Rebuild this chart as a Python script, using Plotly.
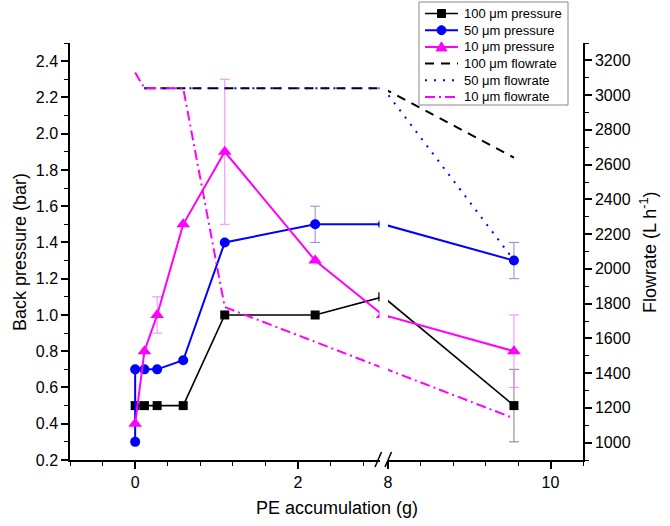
import plotly.graph_objects as go

# ── data ──────────────────────────────────────────────────
# x = PE accumulation (g); None = point that sits inside the axis break
P100_X = [0, 0.114, 0.27, 0.59, 1.1, 2.21, None, 9.55]
P100_Y = [0.5, 0.5, 0.5, 0.5, 1.0, 1.0, 1.1, 0.5]
P100_ERR = [None, None, None, None, None, None, None, 0.2]

P50_X = [0, 0, 0.114, 0.27, 0.59, 1.1, 2.21, None, 9.55]
P50_Y = [0.3, 0.7, 0.7, 0.7, 0.75, 1.4, 1.5, 1.5, 1.3]
P50_ERR = [None, None, None, None, None, None, 0.1, None, 0.1]

P10_X = [0, 0.114, 0.27, 0.59, 1.1, 2.21, None, 9.55]
P10_Y = [0.4, 0.8, 1.0, 1.5, 1.9, 1.3, 1.0, 0.8]
P10_ERR = [None, None, 0.1, None, 0.4, None, None, 0.2]

F100_X = [0.114, 0.27, 0.59, 1.1, 2.21, None, 9.55]
F100_Y = [3040, 3040, 3040, 3040, 3040, 3040, 2640]

F50_X = [0.114, 0.27, 0.59, 1.1, 2.21, None, 9.55]
F50_Y = [3040, 3040, 3040, 3040, 3040, 3040, 2050]

F10_X = [0, 0.114, 0.27, 0.59, 1.1, 2.21, None, 9.55]
F10_Y = [3130, 3040, 3040, 3040, 1780, 1580, 1430, 1140]

LEFT_RANGE = [-0.8, 3.0]
RIGHT_RANGE = [8.0, 10.4]
BREAK_L, BREAK_R = 3.04, 7.94   # where the in-break point is drawn for each half

FONT = "Arial, Liberation Sans, sans-serif"
BLACK, BLUE, MAGENTA = "#000000", "#0000ff", "#ff00ff"

W, H = 670, 526
ML, MR, MT, MB = 70, 87, 43, 66
PW, PH = W - ML - MR, H - MT - MB


def px(xw):
    """pixel x -> paper x"""
    return (xw - ML) / PW


def py(yw):
    """pixel y -> paper y"""
    return (H - MB - yw) / PH


def split(xs, ys, errs=None, side="left"):
    """points belonging to one half of the broken x axis"""
    out_x, out_y, out_e = [], [], []
    for i, (x, y) in enumerate(zip(xs, ys)):
        e = errs[i] if errs else None
        if x is None:
            out_x.append(BREAK_L if side == "left" else BREAK_R)
        elif (side == "left" and x <= LEFT_RANGE[1]) or (side == "right" and x >= RIGHT_RANGE[0]):
            out_x.append(x)
        else:
            continue
        out_y.append(y)
        out_e.append(e)
    return out_x, out_y, out_e


pressure = [
    ("100 μm pressure", P100_X, P100_Y, P100_ERR, BLACK, "square", 9, 1.6, "#808080"),
    ("50 μm pressure", P50_X, P50_Y, P50_ERR, BLUE, "circle", 10, 2, "#8c8cd8"),
    ("10 μm pressure", P10_X, P10_Y, P10_ERR, MAGENTA, "triangle-up", 12, 2, "#f28cf2"),
]
flowrate = [
    ("100 μm flowrate", F100_X, F100_Y, BLACK, "9px,7px"),
    ("50 μm flowrate", F50_X, F50_Y, BLUE, "2px,7px"),
    ("10 μm flowrate", F10_X, F10_Y, MAGENTA, "10px,4px,2px,4px"),
]

fig = go.Figure()

# error bars first so they sit under the markers
for side, xa in (("left", "x"), ("right", "x2")):
    for name, xs, ys, errs, color, sym, size, lw, ecol in pressure:
        sx, sy, se = split(xs, ys, errs, side)
        ex = [x for x, e in zip(sx, se) if e]
        ey = [y for y, e in zip(sy, se) if e]
        ee = [e for e in se if e]
        if ex:
            fig.add_trace(go.Scatter(
                x=ex, y=ey, xaxis=xa, yaxis="y", mode="markers",
                marker=dict(size=1, opacity=0), showlegend=False, hoverinfo="skip",
                error_y=dict(type="data", array=ee, color=ecol, thickness=1, width=5),
            ))

for side, xa in (("left", "x"), ("right", "x2")):
    for name, xs, ys, errs, color, sym, size, lw, ecol in pressure:
        sx, sy, _ = split(xs, ys, errs, side)
        fig.add_trace(go.Scatter(
            x=sx, y=sy, xaxis=xa, yaxis="y", mode="lines+markers", name=name,
            line=dict(color=color, width=lw),
            marker=dict(symbol=sym, size=size, color=color),
            showlegend=False,
        ))
    for name, xs, ys, color, dash in flowrate:
        sx, sy, _ = split(xs, ys, None, side)
        fig.add_trace(go.Scatter(
            x=sx, y=sy, xaxis=xa, yaxis="y2", mode="lines", name=name,
            line=dict(color=color, width=2, dash=dash),
            showlegend=False,
        ))

# ── axes ──────────────────────────────────────────────────
axis_common = dict(
    showline=True, linecolor="black", linewidth=1.5, ticks="outside",
    tickcolor="black", tickwidth=1.5, showgrid=False, zeroline=False, automargin=False,
    tickfont=dict(family=FONT, size=16, color="black"),
)
minor_common = dict(ticklen=4, ticks="outside", tickcolor="black", tickwidth=1.2)

fig.update_layout(
    xaxis=dict(
        domain=[0, px(379.5)], range=LEFT_RANGE, anchor="y", tickmode="linear", tick0=0, dtick=2,
        ticklen=7, minor=dict(tick0=0, dtick=0.4, **minor_common), **axis_common,
    ),
    xaxis2=dict(
        domain=[px(388), 1], range=RIGHT_RANGE, anchor="y", tickmode="linear", tick0=8, dtick=2,
        ticklen=7, minor=dict(tick0=8, dtick=0.4, **minor_common), **axis_common,
    ),
    yaxis=dict(
        range=[0.2, 2.5], anchor="x", side="left", tickmode="linear", tick0=0.2, dtick=0.2,
        tickformat=".1f", ticklen=7, minor=dict(dtick=0.1, **minor_common), **axis_common,
    ),
    yaxis2=dict(
        range=[900, 3300], overlaying="y", anchor="x2", side="right", tickmode="linear",
        tick0=1000, dtick=200, ticklen=7, minor=dict(dtick=100, **minor_common), **axis_common,
    ),
    showlegend=False,
    width=W, height=H,
    margin=dict(l=ML, r=MR, t=MT, b=MB, autoexpand=False),
    paper_bgcolor="white", plot_bgcolor="white",
    font=dict(family=FONT),
)

title_font = dict(family=FONT, size=18, color="black")
fig.add_annotation(text="PE accumulation (g)", xref="paper", yref="paper",
                   x=px(337), y=py(508), xanchor="center", yanchor="middle",
                   showarrow=False, font=title_font)
fig.add_annotation(text="Back pressure (bar)", xref="paper", yref="paper",
                   x=px(20), y=py(252), xanchor="center", yanchor="middle",
                   textangle=-90, showarrow=False, font=title_font)
fig.add_annotation(text="Flowrate (L h<sup>-1</sup>)", xref="paper", yref="paper",
                   x=px(648), y=py(252), xanchor="center", yanchor="middle",
                   textangle=-90, showarrow=False, font=title_font)

# axis-break marks "//"
for x0 in (375, 385):
    fig.add_shape(type="line", xref="paper", yref="paper",
                  x0=px(x0), y0=py(467), x1=px(x0 + 6.5), y1=py(452),
                  line=dict(color="black", width=1.5))

# ── legend box (drawn by hand to get the compact row spacing) ──
LEG_L, LEG_R, LEG_T, LEG_B = 419, 568, 2, 105
ROW0, ROW_STEP = 13.5, 16.7
fig.add_shape(type="rect", xref="paper", yref="paper", layer="above",
              x0=px(LEG_L), x1=px(LEG_R), y0=py(LEG_B), y1=py(LEG_T),
              line=dict(color="#888888", width=1), fillcolor="white")

leg_rows = [(n, c, "solid", lw, sym) for n, _, _, _, c, sym, _, lw, _ in pressure] + \
           [(n, c, d, 2, None) for n, _, _, c, d in flowrate]
for i, (name, color, dash, lw, sym) in enumerate(leg_rows):
    yc = ROW0 + i * ROW_STEP
    fig.add_shape(type="line", xref="paper", yref="paper", layer="above",
                  x0=px(425), x1=px(458), y0=py(yc), y1=py(yc),
                  line=dict(color=color, width=lw, dash=dash))
    mk = dict(xref="paper", yref="paper", layer="above", fillcolor=color, line=dict(color=color, width=1))
    if sym == "square":
        fig.add_shape(type="rect", x0=px(437.5), x1=px(445.5), y0=py(yc + 4), y1=py(yc - 4), **mk)
    elif sym == "circle":
        fig.add_shape(type="circle", x0=px(437), x1=px(446), y0=py(yc + 4.5), y1=py(yc - 4.5), **mk)
    elif sym == "triangle-up":
        path = "M {},{} L {},{} L {},{} Z".format(px(436), py(yc + 4), px(447), py(yc + 4), px(441.5), py(yc - 5))
        fig.add_shape(type="path", path=path, **mk)
    fig.add_annotation(text=name, xref="paper", yref="paper", x=px(462), y=py(yc),
                       xanchor="left", yanchor="middle", showarrow=False,
                       font=dict(family=FONT, size=13, color="black"))

# drop the browser's default 8px page margin so the figure sits at the window origin
fig.write_html("out.html", config={"displayModeBar": False},
               post_script="document.body.style.margin='0';")
